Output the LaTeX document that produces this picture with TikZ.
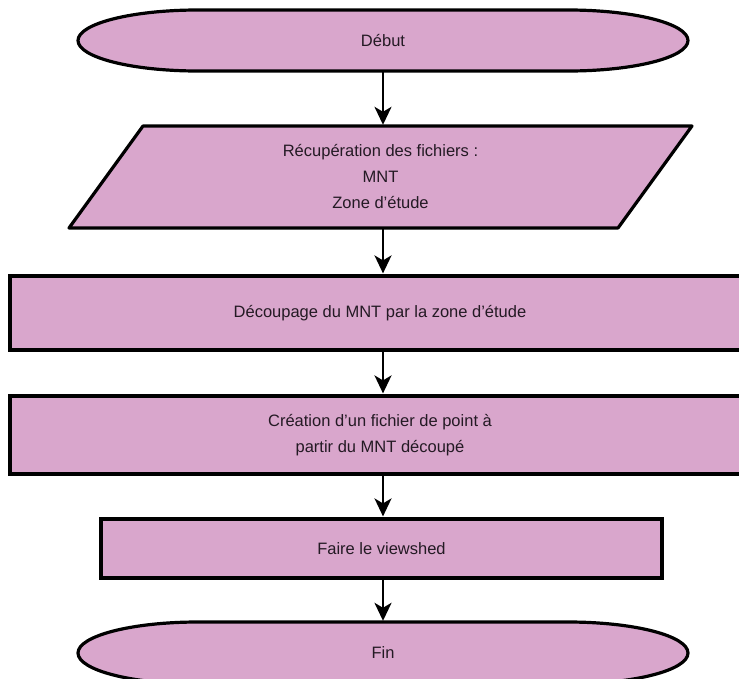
\documentclass[tikz,border=0pt]{standalone}
\usepackage{fontspec}
\setmainfont{Liberation Sans}
\usetikzlibrary{arrows.meta,calc}
\definecolor{lilac}{RGB}{217,166,204}
\definecolor{txtcol}{RGB}{36,26,36}
\begin{document}
\begin{tikzpicture}[x=1pt,y=-1pt,
  lbl/.style={inner sep=0pt, align=center, text=txtcol, font=\fontsize{16.5}{26}\selectfont},
  ghost/.style={lbl, shape=rectangle},
  procbox/.style={lbl, shape=rectangle, draw=black, line width=3.2pt, fill=lilac},
  outline/.style={draw=black, line width=3.2pt, fill=lilac, line join=round},
  arr/.style={line width=2.4pt, -{Stealth[length=18pt,width=17pt,inset=5pt]}, shorten >=1pt}]
\useasboundingbox (0,0) rectangle (739,678);
\clip (0,0) rectangle (739,678);
\fill[white] (0,0) rectangle (739,678);

% terminal shapes and parallelogram outlines
\path[outline] (198,10) arc[start angle=270, end angle=90, x radius=120, y radius=30.5]
  -- (568,71) arc[start angle=90, end angle=-90, x radius=120, y radius=30.5] -- cycle;
\path[outline] (143,126) -- (692,126) -- (618,228) -- (69,228) -- cycle;
\path[outline] (198,622) arc[start angle=270, end angle=90, x radius=120, y radius=31]
  -- (568,684) arc[start angle=90, end angle=-90, x radius=120, y radius=31] -- cycle;

% nodes
\node[ghost, minimum width=610pt, minimum height=61pt] (debut) at (383,40.5) {Début};
\node[ghost, minimum width=549pt, minimum height=102pt] (recup) at (380.5,177)
  {Récupération des fichiers :\\MNT\\Zone d'étude};
\node[procbox, minimum width=740pt, minimum height=74pt] (decoup) at (380,313)
  {Découpage du MNT par la zone d'étude};
\node[procbox, minimum width=740pt, minimum height=78pt] (creation) at (380,435)
  {Création d'un fichier de point à\\partir du MNT découpé};
\node[procbox, minimum width=561pt, minimum height=59pt] (view) at (381.5,548.5)
  {Faire le viewshed};
\node[ghost, minimum width=610pt, minimum height=62pt] (fin) at (383,653) {Fin};

\coordinate (axis) at (383,0);

% connectors
\draw[arr] (axis |- debut.south) -- (axis |- recup.north);
\draw[arr] (axis |- recup.south) -- (axis |- decoup.north);
\draw[arr] (axis |- decoup.south) -- (axis |- creation.north);
\draw[arr] (axis |- creation.south) -- (axis |- view.north);
\draw[arr] (axis |- view.south) -- (axis |- fin.north);
\end{tikzpicture}
\end{document}
